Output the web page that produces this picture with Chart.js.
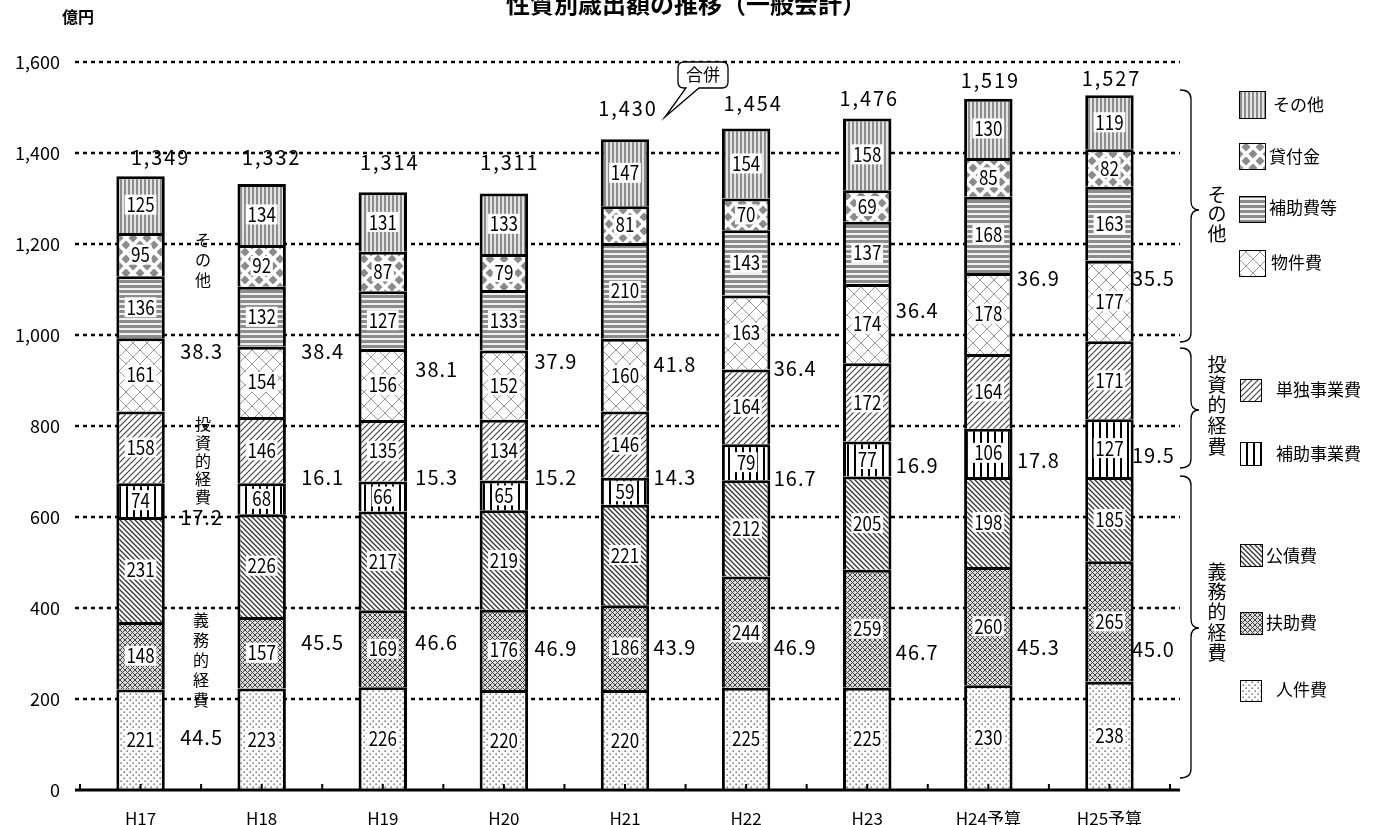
<!DOCTYPE html>
<html><head><meta charset="utf-8">
<script src="https://cdn.jsdelivr.net/npm/chart.js@4"></script>
<style>html,body{margin:0;padding:0;background:#fff;} canvas{display:block;}</style>
</head><body>
<canvas id="c" width="1376" height="825" style="width:1376px;height:825px"></canvas>
<script>
// ---- data ----
const categories = ['H17','H18','H19','H20','H21','H22','H23','H24予算','H25予算'];
const seriesNames = ['人件費','扶助費','公債費','補助事業費','単独事業費','物件費','補助費等','貸付金','その他'];
const jinkenhi     = [221,223,226,220,220,225,225,230,238];
const fujohi       = [148,157,169,176,186,244,259,260,265];
const kosaihi      = [231,226,217,219,221,212,205,198,185];
const hojoJigyohi  = [74,68,66,65,59,79,77,106,127];
const tandokuJigyohi = [158,146,135,134,146,164,172,164,171];
const bukkenhi     = [161,154,156,152,160,163,174,178,177];
const hojohiTo     = [136,132,127,133,210,143,137,168,163];
const kashitsukekin = [95,92,87,79,81,70,69,85,82];
const sonota       = [125,134,131,133,147,154,158,130,119];
const totals       = [1349,1332,1314,1311,1430,1454,1476,1519,1527];
const shareGimu    = [44.5,45.5,46.6,46.9,43.9,46.9,46.7,45.3,45.0];
const shareToshi   = [17.2,16.1,15.3,15.2,14.3,16.7,16.9,17.8,19.5];
const shareSonota  = [38.3,38.4,38.1,37.9,41.8,36.4,36.4,36.9,35.5];
const yTicks       = [0,200,400,600,800,1000,1200,1400,1600];

// ---- annotation placement (label anchors, not data) ----
const totalDx = [20,10,7,6,3,7,2,2,2];
const totalDy = [-19,-27,-30,-31,-31,-25,-20,-19,-17];
const pctDx   = [61,61,54,52,50,49,50,50,44];
const pctSonotaAt = [965,965,925,941,936,927,1055,1125,1125];
const pctToshiAt  = [600,688,688,688,688,684,714,725,736];
const pctGimuAt   = [116,325,325,312,314,314,303,314,308];

const FONT = '"Noto Sans CJK JP", "Noto Sans", sans-serif';

// ---- patterns ----
function mk(w,h,fn){const c=document.createElement('canvas');c.width=w;c.height=h;const g=c.getContext('2d');fn(g,w,h);return g.createPattern(c,'repeat');}
const P = {
  jinken: mk(6,6,(g)=>{g.fillStyle='#fff';g.fillRect(0,0,6,6);g.fillStyle='#444';g.fillRect(0.5,0.5,1.3,1.3);g.fillRect(3.5,3.5,1.3,1.3);}),
  fujo: mk(5,5,(g,w,h)=>{g.fillStyle='#dcdcdc';g.fillRect(0,0,w,h);g.strokeStyle='#404040';g.lineWidth=1;g.beginPath();
        for(const o of [-w,0,w]){g.moveTo(o-1,-1);g.lineTo(o+w+1,h+1);g.moveTo(o+w+1,-1);g.lineTo(o-1,h+1);}g.stroke();}),
  kosai: mk(5,5,(g,w,h)=>{g.fillStyle='#fff';g.fillRect(0,0,w,h);g.strokeStyle='#333';g.lineWidth=1.3;g.beginPath();
        for(const o of [-w,0,w]){g.moveTo(o-1,-1);g.lineTo(o+w+1,h+1);}g.stroke();}),
  hojoJ: mk(7,7,(g,w,h)=>{g.fillStyle='#fff';g.fillRect(0,0,w,h);g.fillStyle='#000';g.fillRect(0,0,2,h);}),
  tandoku: mk(6,6,(g,w,h)=>{g.fillStyle='#fff';g.fillRect(0,0,w,h);g.strokeStyle='#444';g.lineWidth=1.2;g.beginPath();
        for(const o of [-w,0,w]){g.moveTo(o-1,h+1);g.lineTo(o+w+1,-1);}g.stroke();}),
  bukken: mk(14,14,(g,w,h)=>{g.fillStyle='#fff';g.fillRect(0,0,w,h);g.strokeStyle='#999';g.lineWidth=1;g.beginPath();
        g.moveTo(-1,-1);g.lineTo(w+1,h+1);g.moveTo(w+1,-1);g.lineTo(-1,h+1);g.stroke();}),
  hojohi: mk(5,5,(g,w,h)=>{g.fillStyle='#f0f0f0';g.fillRect(0,0,w,h);g.fillStyle='#8c8c8c';g.fillRect(0,0,w,3);}),
  kashi: mk(14,14,(g,w,h)=>{g.fillStyle='#fff';g.fillRect(0,0,w,h);g.fillStyle='#8a8a8a';
        for(const [cx,cy] of [[7,0],[0,7],[14,7],[7,14]]){g.beginPath();g.moveTo(cx,cy-4.5);g.lineTo(cx+4.5,cy);g.lineTo(cx,cy+4.5);g.lineTo(cx-4.5,cy);g.closePath();g.fill();}}),
  sonota: mk(4,4,(g,w,h)=>{g.fillStyle='#e4e4e4';g.fillRect(0,0,w,h);g.fillStyle='#8c8c8c';g.fillRect(0,0,2,h);})
};
const seriesValues = [jinkenhi,fujohi,kosaihi,hojoJigyohi,tandokuJigyohi,bukkenhi,hojohiTo,kashitsukekin,sonota];
const seriesPatterns = [P.jinken,P.fujo,P.kosai,P.hojoJ,P.tandoku,P.bukken,P.hojohi,P.kashi,P.sonota];

// ---- helpers ----
function txt(ctx,s,x,y,size,o){o=o||{};ctx.save();ctx.font=(o.bold?'bold ':'')+size+'px '+FONT;
  if(o.ls) ctx.letterSpacing=o.ls;
  ctx.textAlign=o.align||'center';ctx.textBaseline='middle';ctx.translate(x,y);ctx.scale(o.sx||1,1);
  if(o.bg){const w=ctx.measureText(s).width;ctx.fillStyle='#fff';ctx.fillRect(-w/2-2,-10,w+4,20);}
  ctx.fillStyle='#000';ctx.fillText(s,0,0);ctx.restore();}
function vtext(ctx,s,x,ys,size){for(let i=0;i<s.length;i++)txt(ctx,s[i],x,ys[i],size);}
function brace(ctx,x0,y1,ym,y2,xm,xt){const r=9;ctx.beginPath();ctx.moveTo(x0,y1);ctx.quadraticCurveTo(xm,y1,xm,y1+r);
  ctx.lineTo(xm,ym-r);ctx.quadraticCurveTo(xm,ym,xt,ym);ctx.quadraticCurveTo(xm,ym,xm,ym+r);ctx.lineTo(xm,y2-r);
  ctx.quadraticCurveTo(xm,y2,x0,y2);ctx.stroke();}

const gridPlugin = {
  id:'grid',
  beforeDatasetsDraw(chart){
    const ctx=chart.ctx, y=chart.scales.y;
    ctx.save();ctx.strokeStyle='#000';ctx.lineWidth=2.5;ctx.setLineDash([4,4]);
    for(const v of yTicks){ if(v===0) continue; const py=Math.round(y.getPixelForValue(v));
      ctx.beginPath();ctx.moveTo(75,py);ctx.lineTo(1180,py);ctx.stroke();}
    ctx.restore();
  },
  afterDatasetsDraw(chart){
    const ctx=chart.ctx, x=chart.scales.x, y=chart.scales.y, ca=chart.chartArea;
    seriesValues.forEach((vals,di)=>{
      const meta=chart.getDatasetMeta(di);
      meta.data.forEach((bar,j)=>{ txt(ctx,String(vals[j]),bar.x,(bar.y+bar.base)/2,20,{sx:0.85,bg:true}); });
    });
    const by=y.getPixelForValue(0);
    ctx.save();ctx.strokeStyle='#000';ctx.lineWidth=3;ctx.beginPath();ctx.moveTo(75,by);ctx.lineTo(1180,by);ctx.stroke();
    ctx.lineWidth=2;const cw=(ca.right-ca.left)/categories.length;
    for(let k=0;k<=categories.length*2;k++){const px=ca.left+k*cw/2;ctx.beginPath();ctx.moveTo(px,by);ctx.lineTo(px,by-6);ctx.stroke();}
    ctx.restore();
    categories.forEach((c,j)=>{
      const cx=x.getPixelForValue(j);
      const top=y.getPixelForValue(totals[j]);
      txt(ctx,totals[j].toLocaleString('en-US'),cx+totalDx[j],top+totalDy[j],21,{sx:0.95,ls:'2px'});
      txt(ctx,shareSonota[j].toFixed(1),cx+pctDx[j],y.getPixelForValue(pctSonotaAt[j]),20,{ls:'1px'});
      txt(ctx,shareToshi[j].toFixed(1),cx+pctDx[j],y.getPixelForValue(pctToshiAt[j]),20,{ls:'1px'});
      txt(ctx,shareGimu[j].toFixed(1),cx+pctDx[j],y.getPixelForValue(pctGimuAt[j]),20,{ls:'1px'});
    });
  },
  afterDraw(chart){
    const ctx=chart.ctx;
    txt(ctx,'性質別歳出額の推移（一般会計）',686,4,24,{bold:true});
    txt(ctx,'億円',78,17,16,{bold:true});
    vtext(ctx,'その他',203,[240,260,280],16);
    vtext(ctx,'投資的経費',203,[424,443,461,479,497],16);
    vtext(ctx,'義務的経費',201,[620,640,660,680,700],16);
    ctx.save();ctx.strokeStyle='#000';ctx.lineWidth=1.3;
    brace(ctx,1180,90,210,342,1191,1199);
    brace(ctx,1180,348,410,468,1191,1199);
    brace(ctx,1180,476,628,778,1191,1199);
    ctx.restore();
    vtext(ctx,'その他',1217,[195,214,234],19);
    vtext(ctx,'投資的経費',1217,[365,385,405,426,447],19);
    vtext(ctx,'義務的経費',1217,[572,592,612,633,653],19);
    const leg=[
      [8,'その他',1239,91,27,28,1273,105],
      [7,'貸付金',1239,143,27,27,1269,157],
      [6,'補助費等',1239,196,27,27,1269,208],
      [5,'物件費',1239,250,27,27,1271,263],
      [4,'単独事業費',1240,379,22,23,1276,390],
      [3,'補助事業費',1240,442,22,24,1276,454],
      [2,'公債費',1240,544,23,23,1266,556],
      [1,'扶助費',1240,612,23,23,1266,623],
      [0,'人件費',1240,680,22,22,1276,690]
    ];
    leg.forEach(([si,name,bx,by,bw,bh,tx,ty])=>{
      ctx.save();ctx.fillStyle=seriesPatterns[si];ctx.fillRect(bx,by,bw,bh);
      ctx.strokeStyle='#000';ctx.lineWidth=1;ctx.strokeRect(bx+0.5,by+0.5,bw-1,bh-1);ctx.restore();
      txt(ctx,name,tx,ty,17,{align:'left'});
    });
    ctx.save();
    const L=678,T=62,R=728,B=88,r=6;
    ctx.beginPath();ctx.moveTo(L+r,T);ctx.lineTo(R-r,T);ctx.quadraticCurveTo(R,T,R,T+r);ctx.lineTo(R,B-r);
    ctx.quadraticCurveTo(R,B,R-r,B);ctx.lineTo(699,B);ctx.lineTo(665,117);ctx.lineTo(686,B);ctx.lineTo(L+r,B);
    ctx.quadraticCurveTo(L,B,L,B-r);ctx.lineTo(L,T+r);ctx.quadraticCurveTo(L,T,L+r,T);ctx.closePath();
    ctx.fillStyle='#fff';ctx.fill();ctx.strokeStyle='#000';ctx.lineWidth=1.3;ctx.stroke();ctx.restore();
    txt(ctx,'合併',703,75,17);
  }
};

new Chart(document.getElementById('c'),{
  type:'bar',
  data:{
    labels:categories,
    datasets:seriesNames.map((n,i)=>({label:n,data:seriesValues[i],backgroundColor:seriesPatterns[i],
      borderColor:'#000',borderWidth:3,borderSkipped:'start',barPercentage:0.4,categoryPercentage:1}))
  },
  options:{
    responsive:false,animation:false,devicePixelRatio:1,
    layout:{padding:{top:62,right:206,left:0,bottom:0}},
    plugins:{legend:{display:false},tooltip:{enabled:false},title:{display:false}},
    scales:{
      x:{stacked:true,grid:{display:false},border:{display:false},
         ticks:{color:'#000',font:{family:FONT,size:17},padding:10,maxRotation:0},
         afterFit(s){s.height=35;}},
      y:{stacked:true,min:0,max:1600,grid:{display:false,drawTicks:false},border:{display:false},
         afterBuildTicks(s){s.ticks=yTicks.map(v=>({value:v}));},
         ticks:{color:'#000',font:{family:FONT,size:18},padding:20,callback:v=>v.toLocaleString('en-US')},
         afterFit(s){s.width=80;}}
    }
  },
  plugins:[gridPlugin]
});
</script></body></html>
